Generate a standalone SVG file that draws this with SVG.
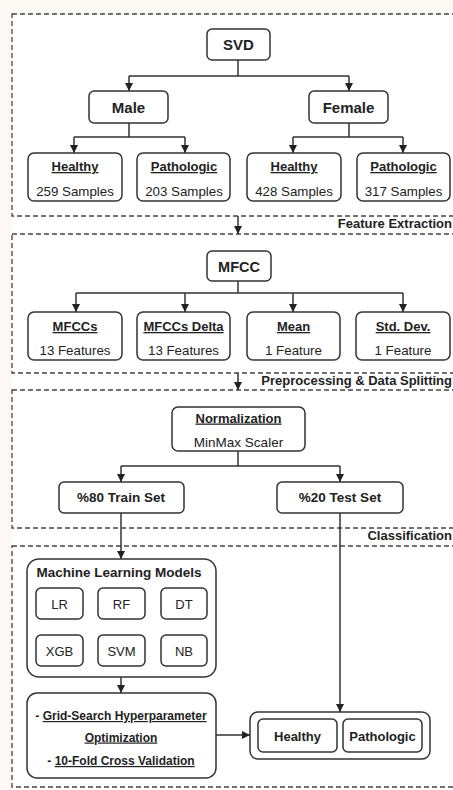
<svg xmlns="http://www.w3.org/2000/svg" width="453" height="790" viewBox="0 0 453 790">
<style>
text{font-family:"Liberation Sans",Arial,sans-serif;fill:#222;text-anchor:middle}
.b{font-weight:bold}
.u{text-decoration:underline}
.box{fill:#fff;stroke:#333;stroke-width:1.5}
.frame{fill:none;stroke:#444;stroke-width:1.3;stroke-dasharray:5 3}
.ln{fill:none;stroke:#333;stroke-width:1.5}
.lab{font-weight:bold;font-size:13px;text-anchor:end}
</style>
<defs>
<marker id="ah" viewBox="0 0 8 8" refX="8" refY="4" markerWidth="8" markerHeight="8" markerUnits="userSpaceOnUse" orient="auto">
<path d="M0,0 L8,4 L0,8 z" fill="#222"/>
</marker>
</defs>
<rect x="0" y="0" width="453" height="790" fill="#fcf9f4"/>
<rect x="12" y="14" width="460" height="790" fill="#fff"/>
<g id="frames">
<rect class="frame" x="12" y="14" width="460" height="202"/>
<rect class="frame" x="12" y="234" width="460" height="139"/>
<rect class="frame" x="12" y="390" width="460" height="138"/>
<rect class="frame" x="12" y="546" width="460" height="241"/>
<text class="lab" x="452" y="228">Feature Extraction</text>
<text class="lab" x="452" y="385" font-size="13.4">Preprocessing &amp; Data Splitting</text>
<text class="lab" x="452" y="540">Classification</text>
</g>
<g id="connectors">
<path class="ln" d="M238,60 V76 M129,76 H349"/>
<path class="ln" d="M129,76 V91" marker-end="url(#ah)"/>
<path class="ln" d="M349,76 V91" marker-end="url(#ah)"/>
<path class="ln" d="M129,123 V137 M74,137 H185"/>
<path class="ln" d="M74,137 V153" marker-end="url(#ah)"/>
<path class="ln" d="M185,137 V153" marker-end="url(#ah)"/>
<path class="ln" d="M349,123 V137 M293,137 H403"/>
<path class="ln" d="M293,137 V153" marker-end="url(#ah)"/>
<path class="ln" d="M403,137 V153" marker-end="url(#ah)"/>
<path class="ln" d="M238,216 V234" marker-end="url(#ah)"/>
<path class="ln" d="M238,281 V293 M76,293 H403"/>
<path class="ln" d="M76,293 V312" marker-end="url(#ah)"/>
<path class="ln" d="M185,293 V312" marker-end="url(#ah)"/>
<path class="ln" d="M293,293 V312" marker-end="url(#ah)"/>
<path class="ln" d="M403,293 V312" marker-end="url(#ah)"/>
<path class="ln" d="M238,373 V390" marker-end="url(#ah)"/>
<path class="ln" d="M238,451 V466 M121,466 H340"/>
<path class="ln" d="M121,466 V482" marker-end="url(#ah)"/>
<path class="ln" d="M340,466 V482" marker-end="url(#ah)"/>
<path class="ln" d="M121,513 V559" marker-end="url(#ah)"/>
<path class="ln" d="M340,513 V712" marker-end="url(#ah)"/>
<path class="ln" d="M121,677 V693" marker-end="url(#ah)"/>
<path class="ln" d="M216,735 H250" marker-end="url(#ah)"/>
</g>
<g id="svd"><rect class="box" x="207" y="29" width="63" height="31" rx="5"/><text class="b" x="238.5" y="50" font-size="15">SVD</text></g>
<g id="male"><rect class="box" x="89" y="91" width="79" height="32" rx="5"/><text class="b" x="128.5" y="112.5" font-size="15">Male</text></g>
<g id="female"><rect class="box" x="309" y="91" width="79" height="32" rx="5"/><text class="b" x="348.5" y="112.5" font-size="15">Female</text></g>
<g id="m-healthy"><rect class="box" x="28" y="153" width="94" height="48" rx="6"/><text class="b u" x="75" y="171" font-size="13">Healthy</text><text x="75" y="195.5" font-size="13.3">259 Samples</text></g>
<g id="m-patho"><rect class="box" x="137" y="153" width="93" height="48" rx="6"/><text class="b u" x="184" y="171" font-size="13">Pathologic</text><text x="184" y="195.5" font-size="13.3">203 Samples</text></g>
<g id="f-healthy"><rect class="box" x="247" y="153" width="94" height="48" rx="6"/><text class="b u" x="294" y="171" font-size="13">Healthy</text><text x="294" y="195.5" font-size="13.3">428 Samples</text></g>
<g id="f-patho"><rect class="box" x="357" y="153" width="93" height="48" rx="6"/><text class="b u" x="403.5" y="171" font-size="13">Pathologic</text><text x="403.5" y="195.5" font-size="13.3">317 Samples</text></g>
<g id="mfcc"><rect class="box" x="207" y="251" width="64" height="30" rx="5"/><text class="b" x="239" y="271.5" font-size="14.5">MFCC</text></g>
<g id="mfccs"><rect class="box" x="28" y="312" width="94" height="48" rx="6"/><text class="b u" x="75" y="331" font-size="13">MFCCs</text><text x="75" y="354.5" font-size="13.3">13 Features</text></g>
<g id="delta"><rect class="box" x="137" y="312" width="93" height="48" rx="6"/><text class="b u" x="183.5" y="331" font-size="13">MFCCs Delta</text><text x="183.5" y="354.5" font-size="13.3">13 Features</text></g>
<g id="mean"><rect class="box" x="247" y="312" width="93" height="48" rx="6"/><text class="b u" x="293.5" y="331" font-size="13">Mean</text><text x="293.5" y="354.5" font-size="13.3">1 Feature</text></g>
<g id="std"><rect class="box" x="356" y="312" width="94" height="48" rx="6"/><text class="b u" x="403" y="331" font-size="13">Std. Dev.</text><text x="403" y="354.5" font-size="13.3">1 Feature</text></g>
<g id="norm"><rect class="box" x="172" y="407" width="133" height="44" rx="6"/><text class="b u" x="238.5" y="422.5" font-size="13">Normalization</text><text x="238.5" y="447" font-size="13.5">MinMax Scaler</text></g>
<g id="train"><rect class="box" x="59" y="482" width="125" height="31" rx="5"/><text class="b" x="121" y="502" font-size="13.5">%80 Train Set</text></g>
<g id="test"><rect class="box" x="277" y="482" width="126" height="31" rx="5"/><text class="b" x="340" y="502" font-size="13.5">%20 Test Set</text></g>
<g id="ml">
<rect class="box" x="27" y="559" width="189" height="118" rx="12"/>
<text class="b" x="119" y="577" font-size="13.5">Machine Learning Models</text>
<rect class="box" x="36" y="588" width="47" height="31" rx="5"/><text x="59.5" y="608.5" font-size="13">LR</text>
<rect class="box" x="98" y="588" width="47" height="31" rx="5"/><text x="121.5" y="608.5" font-size="13">RF</text>
<rect class="box" x="161" y="588" width="46" height="31" rx="5"/><text x="184" y="608.5" font-size="13">DT</text>
<rect class="box" x="36" y="635" width="47" height="31" rx="5"/><text x="59.5" y="655.5" font-size="13">XGB</text>
<rect class="box" x="98" y="635" width="47" height="31" rx="5"/><text x="121.5" y="655.5" font-size="13">SVM</text>
<rect class="box" x="161" y="635" width="46" height="31" rx="5"/><text x="184" y="655.5" font-size="13">NB</text>
</g>
<g id="grid">
<rect class="box" x="27" y="693" width="189" height="85" rx="10"/>
<text class="b" x="121" y="720" font-size="12">- <tspan class="u">Grid-Search Hyperparameter</tspan></text>
<text class="b u" x="121" y="741.5" font-size="12">Optimization</text>
<text class="b" x="121" y="765" font-size="12">- <tspan class="u">10-Fold Cross Validation</tspan></text>
</g>
<g id="result">
<rect class="box" x="250" y="712" width="180" height="47" rx="8"/>
<rect class="box" x="258" y="719" width="79" height="33" rx="5"/><text class="b" x="297.5" y="740.5" font-size="13">Healthy</text>
<rect class="box" x="343" y="719" width="79" height="33" rx="5"/><text class="b" x="382.5" y="740.5" font-size="13">Pathologic</text>
</g>
</svg>
